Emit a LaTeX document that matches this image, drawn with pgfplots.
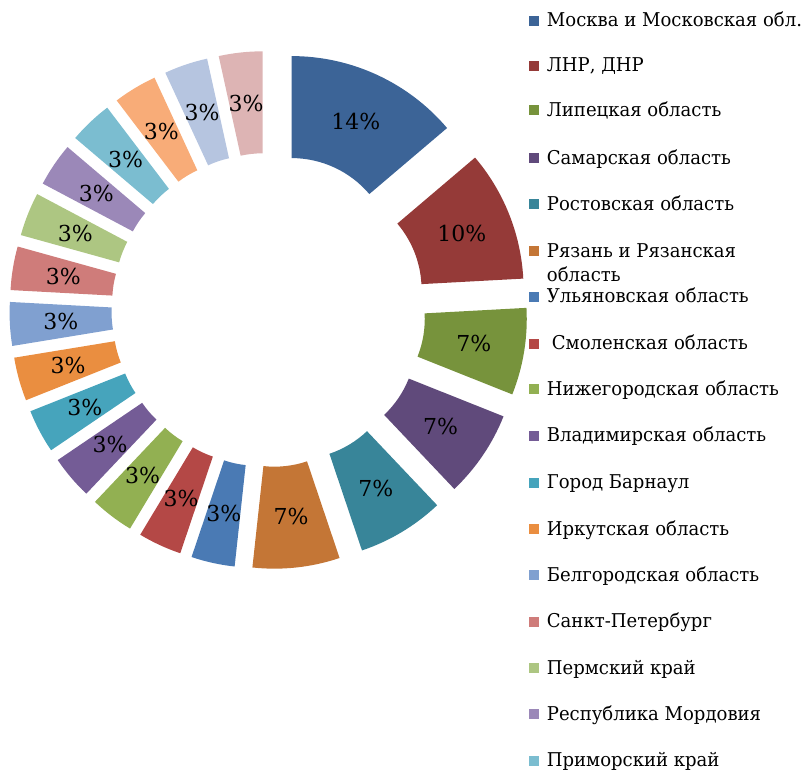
\documentclass[border=0pt]{standalone}
\usepackage{fontspec}
\setmainfont{DejaVu Serif}
\newfontfamily\legfam{DejaVu Serif}[FakeStretch=0.95]
\usepackage{pgfplots}
\usepackage{pgfplotstable}
\pgfplotsset{compat=1.18}
\definecolor{c1}{RGB}{60,100,151}
\definecolor{c2}{RGB}{149,58,56}
\definecolor{c3}{RGB}{119,147,60}
\definecolor{c4}{RGB}{96,74,123}
\definecolor{c5}{RGB}{56,133,153}
\definecolor{c6}{RGB}{196,118,54}
\definecolor{c7}{RGB}{74,122,180}
\definecolor{c8}{RGB}{180,72,70}
\definecolor{c9}{RGB}{146,176,82}
\definecolor{c10}{RGB}{116,92,150}
\definecolor{c11}{RGB}{70,164,188}
\definecolor{c12}{RGB}{234,142,64}
\definecolor{c13}{RGB}{128,160,208}
\definecolor{c14}{RGB}{207,124,122}
\definecolor{c15}{RGB}{173,198,130}
\definecolor{c16}{RGB}{155,136,184}
\definecolor{c17}{RGB}{123,189,208}
\definecolor{c18}{RGB}{248,172,120}
\definecolor{c19}{RGB}{182,197,224}
\definecolor{c20}{RGB}{221,180,180}
\pgfplotstableread[col sep=semicolon]{
name;value;col;ly
Москва и Московская обл.;4;c1;20.7
ЛНР, ДНР;3;c2;65.7
Липецкая область;2;c3;110.3
Самарская область;2;c4;158.5
Ростовская область;2;c5;204.3
Рязань и Рязанская область;2;c6;251.3
Ульяновская область;1;c7;297
Смоленская область;1;c8;343.7
Нижегородская область;1;c9;389.5
Владимирская область;1;c10;435.7
Город Барнаул;1;c11;482.7
Иркутская область;1;c12;529.3
Белгородская область;1;c13;575.3
Санкт-Петербург;1;c14;621.7
Пермский край;1;c15;668
Республика Мордовия;1;c16;714
Приморский край;1;c17;760.7
Другие 1;1;c18;900
Другие 2;1;c19;900
Другие 3;1;c20;900
}\data
\pgfplotstablecreatecol[create col/expr accum={\pgfmathaccuma+\thisrow{value}}{0}]{cum}{\data}
\newcommand\lblfont{\fontsize{22bp}{26bp}\selectfont}
\newcommand\legfont{\legfam\fontsize{19bp}{24.4bp}\selectfont}
\def\CX{268.5}
\def\CY{460}
\def\Ro{204}
\def\Ri{102}
\def\Dx{55}
\begin{document}
\begin{tikzpicture}
\path[use as bounding box] (0,0) rectangle (807bp,770bp);
\begin{axis}[x=1bp,y=1bp,xmin=0,xmax=807,ymin=0,ymax=770,hide axis,clip=false,anchor=origin,at={(0,0)}]
\pgfplotstablegetelem{19}{cum}\of\data
\pgfmathsetmacro\total{\pgfplotsretval}
\pgfplotsinvokeforeach{0,...,19}{%
  \pgfplotstablegetelem{#1}{value}\of\data\let\vv\pgfplotsretval
  \pgfplotstablegetelem{#1}{cum}\of\data\let\cc\pgfplotsretval
  \pgfplotstablegetelem{#1}{col}\of\data\let\cl\pgfplotsretval
  \pgfmathsetmacro\ta{90-360*(\cc-\vv)/\total}%
  \pgfmathsetmacro\tb{90-360*\cc/\total}%
  \pgfmathsetmacro\tm{(\ta+\tb)/2}%
  \pgfmathsetmacro\sx{\CX+\Dx*cos(\tm)}%
  \pgfmathsetmacro\sy{\CY+\Dx*sin(\tm)}%
  \pgfmathsetmacro\ox{\sx+\Ro*cos(\ta)}%
  \pgfmathsetmacro\oy{\sy+\Ro*sin(\ta)}%
  \pgfmathsetmacro\ix{\sx+\Ri*cos(\tb)}%
  \pgfmathsetmacro\iy{\sy+\Ri*sin(\tb)}%
  \pgfmathsetmacro\lx{\sx+0.5*(\Ro+\Ri)*cos(\tm)}%
  \pgfmathsetmacro\ly{\sy+0.5*(\Ro+\Ri)*sin(\tm)}%
  \pgfmathtruncatemacro\pc{round(100*\vv/\total)}%
  \edef\temp{\noexpand\fill[\cl] (axis cs:\ox,\oy) arc[start angle=\ta,end angle=\tb,radius=\Ro bp] -- (axis cs:\ix,\iy) arc[start angle=\tb,end angle=\ta,radius=\Ri bp] -- cycle;
  \noexpand\node[font=\noexpand\lblfont,inner sep=0pt] at (axis cs:\lx,\ly) {\pc\noexpand\%};}%
  \temp
}
\pgfplotsinvokeforeach{0,...,16}{%
  \pgfplotstablegetelem{#1}{col}\of\data\let\cl\pgfplotsretval
  \pgfplotstablegetelem{#1}{ly}\of\data\let\yy\pgfplotsretval
  \pgfplotstablegetelem{#1}{name}\of\data\let\nm\pgfplotsretval
  \pgfmathsetmacro\my{770-\yy-5}%
  \pgfmathsetmacro\by{770-\yy-6}%
  \ifnum#1=5
    \pgfmathsetmacro\byy{\by-24.4}%
    \edef\temp{\noexpand\fill[\cl] (axis cs:529,\my) rectangle ++(10bp,10bp);
    \noexpand\node[anchor=base west,inner sep=0pt,font=\noexpand\legfont] at (axis cs:546.7,\by) {Рязань и Рязанская};
    \noexpand\node[anchor=base west,inner sep=0pt,font=\noexpand\legfont] at (axis cs:546.7,\byy) {область};}%
  \else
    \ifnum#1=7 \def\tx{551.7}\else\def\tx{546.7}\fi
    \edef\temp{\noexpand\fill[\cl] (axis cs:529,\my) rectangle ++(10bp,10bp);
    \noexpand\node[anchor=base west,inner sep=0pt,font=\noexpand\legfont] at (axis cs:\tx,\by) {\nm};}%
  \fi
  \temp
}
\end{axis}
\end{tikzpicture}
\end{document}
